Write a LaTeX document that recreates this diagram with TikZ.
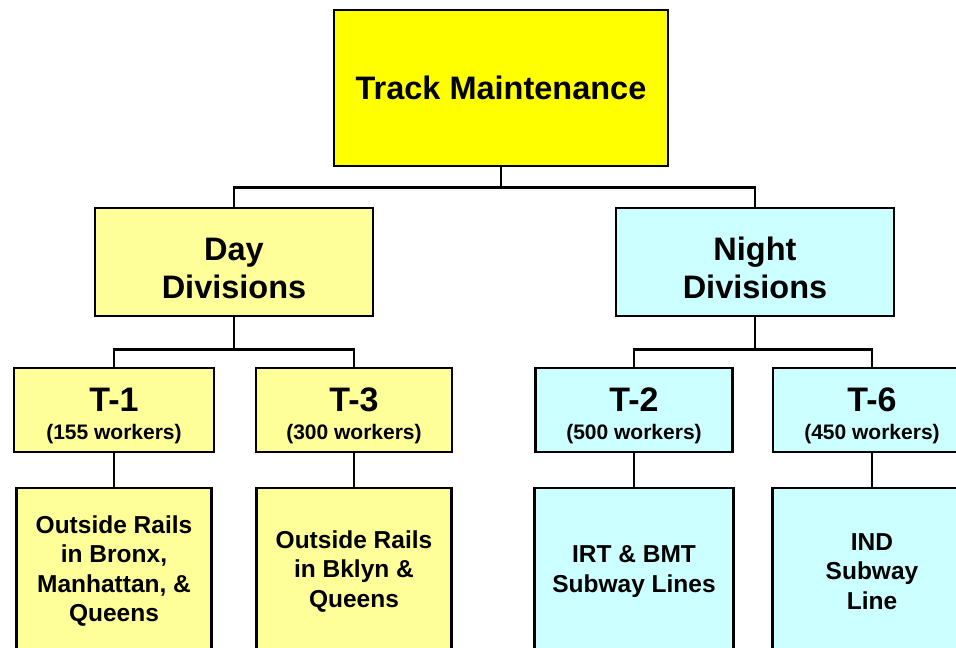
\documentclass[tikz,border=0pt]{standalone}
\usepackage{fontspec}
\setmainfont{Liberation Sans}
\begin{document}
\begin{tikzpicture}[x=1pt,y=-1pt,
  box/.style={draw=black,line width=2.7pt,rectangle,inner sep=0pt,align=center},
  topbox/.style={box,fill=topyellow,minimum width=334pt,minimum height=156pt,
                 font=\bfseries\fontsize{32.5}{38}\selectfont},
  divbox/.style={box,minimum width=278pt,minimum height=108pt,
                 font=\bfseries\fontsize{32.5}{38}\selectfont},
  unitbox/.style={box,minimum width=198pt,minimum height=84pt,
                  font=\bfseries\fontsize{21}{28}\selectfont},
  areabox/.style={box,minimum width=196pt,minimum height=162pt,
                  font=\bfseries\fontsize{24.5}{29.5}\selectfont},
  day/.style={fill=dayyellow},
  night/.style={fill=nightcyan},
  link/.style={draw=black,line width=2.7pt}]
\definecolor{topyellow}{HTML}{FFFF00}
\definecolor{dayyellow}{HTML}{FFFF99}
\definecolor{nightcyan}{HTML}{CCFFFF}
\clip (0,0) rectangle (956,648);
\fill[white] (0,0) rectangle (956,648);

% top level
\node[topbox] (track) at (501,88) {Track Maintenance};

% divisions (the struts push the two lines a little lower in the box)
\node[divbox,day]   (dayd)   at (234,262) {\rule{0pt}{36pt}Day\\Divisions};
\node[divbox,night] (nightd) at (755,262) {\rule{0pt}{36pt}Night\\Divisions};

% units
\node[unitbox,day,minimum width=200pt] (t1) at (114,410)
  {\rule{0pt}{35pt}{\fontsize{34}{34}\selectfont T-1}\\(155 workers)};
\node[unitbox,day,minimum width=196pt] (t3) at (354,410)
  {\rule{0pt}{35pt}{\fontsize{34}{34}\selectfont T-3}\\(300 workers)};
\node[unitbox,night,minimum width=197pt] (t2) at (634,410)
  {\rule{0pt}{35pt}{\fontsize{34}{34}\selectfont T-2}\\(500 workers)};
\node[unitbox,night] (t6) at (872,410)
  {\rule{0pt}{35pt}{\fontsize{34}{34}\selectfont T-6}\\(450 workers)};

% areas served
\node[areabox,day,minimum width=195pt] (a1) at (114,569)
  {\rule{0pt}{22pt}Outside Rails\\in Bronx,\\Manhattan, \&\\Queens};
\node[areabox,day,minimum width=195pt] (a3) at (354,569)
  {\rule{0pt}{22pt}Outside Rails\\in Bklyn \&\\Queens};
\node[areabox,night,minimum width=199pt] (a2) at (634,569)
  {\rule{0pt}{22pt}IRT \& BMT\\Subway Lines};
\node[areabox,night,minimum width=199pt] (a6) at (872,569)
  {\rule{0pt}{22pt}IND\\Subway\\Line};

% connectors
\draw[link] (track.south) -- ++(0,20) -| (dayd.north);
\draw[link] (track.south) -- ++(0,20) -| (nightd.north);
\draw[link] (dayd.south) -- ++(0,32) -| (t1.north);
\draw[link] (dayd.south) -- ++(0,32) -| (t3.north);
\draw[link] (nightd.south) -- ++(0,32) -| (t2.north);
\draw[link] (nightd.south) -- ++(0,32) -| (t6.north);
\draw[link] (t1.south) -- (a1.north);
\draw[link] (t3.south) -- (a3.north);
\draw[link] (t2.south) -- (a2.north);
\draw[link] (t6.south) -- (a6.north);
\end{tikzpicture}
\end{document}
